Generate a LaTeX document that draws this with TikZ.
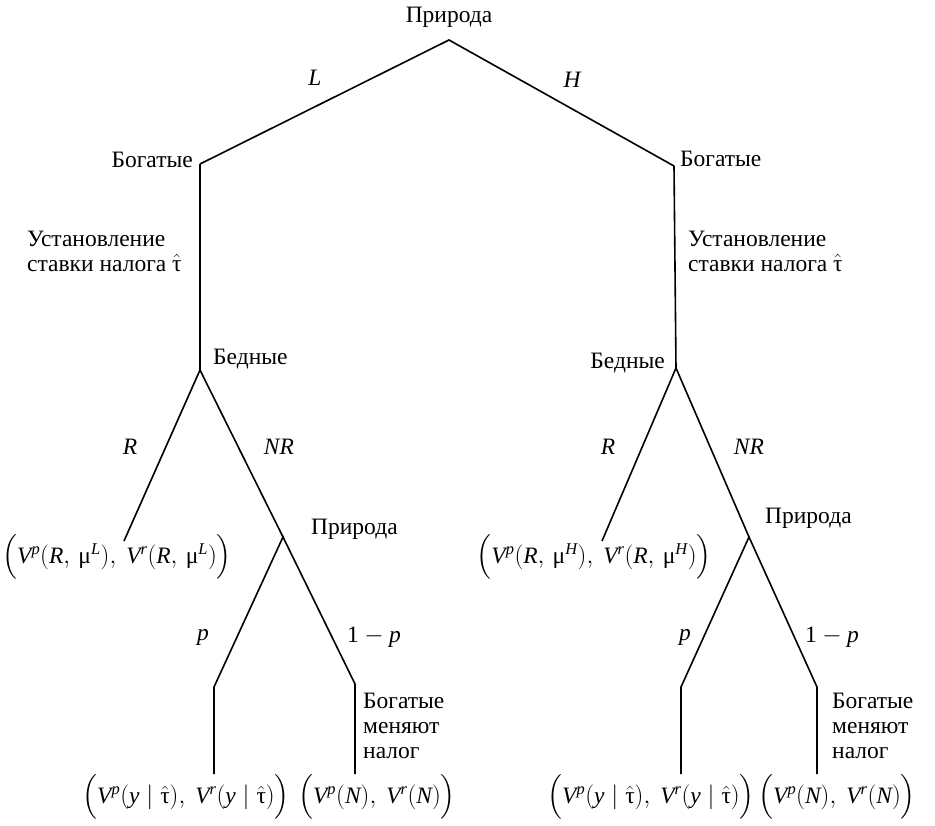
\documentclass[tikz,border=0pt]{standalone}
\usepackage{fontspec}
\setmainfont{Liberation Serif}
\usepackage{amsmath}
\usetikzlibrary{positioning}

\newcommand\mi[1]{\mathit{#1}}
\newcommand\tauhat{\hat{\text{τ}}}
\newcommand\payR[1]{$\Bigl(\mi{V}^{\mi{p}}(\mi{R},\,\text{μ}^{\mi{#1}}),\ \mi{V}^{\mi{r}}(\mi{R},\,\text{μ}^{\mi{#1}})\Bigr)$}
\newcommand\payY{$\Bigl(\mi{V}^{\mi{p}}(\mi{y}\;|\;\tauhat),\ \mi{V}^{\mi{r}}(\mi{y}\;|\;\tauhat)\Bigr)$}
\newcommand\payN{$\Bigl(\mi{V}^{\mi{p}}(\mi{N}),\ \mi{V}^{\mi{r}}(\mi{N})\Bigr)$}

\begin{document}
\begin{tikzpicture}[x=1pt, y=-1pt]
\tikzstyle{lbl} = [inner sep=1pt, font=\fontsize{23.5}{25}\selectfont]
\tikzstyle{stage} = [lbl, align=left]
\tikzstyle{edge} = [draw, line width=1.6pt, line join=miter]

\useasboundingbox (0,0) rectangle (935,826);

% decision points
\coordinate (nat) at (449,40);
\coordinate (richL) at (200,164);
\coordinate (richH) at (674,166);
\coordinate (poorL) at (200,370);
\coordinate (poorH) at (676,368);
\coordinate (leafRL) at (124,541);
\coordinate (leafRH) at (602,541);
\coordinate (natL) at (283,537);
\coordinate (natH) at (749,537);
\coordinate (kinkpL) at (214,687);
\coordinate (kinkqL) at (355,684);
\coordinate (kinkpH) at (681,687);
\coordinate (kinkqH) at (817,687);
\coordinate (endpL) at (214,774);
\coordinate (endqL) at (355,774);
\coordinate (endpH) at (681,774);
\coordinate (endqH) at (817,774);

% branches
\path[edge] (richL) -- (nat) -- (richH);
\path[edge] (richL) -- (poorL);
\path[edge] (richH) -- (poorH);
\path[edge] (leafRL) -- (poorL) -- (natL);
\path[edge] (leafRH) -- (poorH) -- (natH);
\path[edge] (endpL) -- (kinkpL) -- (natL) -- (kinkqL) -- (endqL);
\path[edge] (endpH) -- (kinkpH) -- (natH) -- (kinkqH) -- (endqH);

% players and moves
\node (top) [lbl] at (449,17) {Природа};
\node (mL) [lbl] at (315,78) {$\mi{L}$};
\node (mH) [lbl] at (572,80) {$\mi{H}$};
\node (richLtxt) [lbl, anchor=east] at (194,160) {Богатые};
\node (richHtxt) [lbl, anchor=west] at (679,159) {Богатые};
\node (taxL) [stage, anchor=west] at (26,251) {Установление\\ставки налога $\tauhat$};
\node (taxH) [stage, anchor=west] at (687,251) {Установление\\ставки налога $\tauhat$};
\node (poorLtxt) [lbl, anchor=west] at (212,359) {Бедные};
\node (poorHtxt) [lbl, anchor=east] at (666,363) {Бедные};
\node (rL) [lbl] at (130,447) {$\mi{R}$};
\node (nrL) [lbl] at (279,447) {$\mi{NR}$};
\node (rH) [lbl] at (608,447) {$\mi{R}$};
\node (nrH) [lbl] at (749,447) {$\mi{NR}$};
\node (natLtxt) [lbl, anchor=west] at (310,529) {Природа};
\node (natHtxt) [lbl, anchor=west] at (764,518) {Природа};
\node (pL) [lbl] at (203,637) {$\mi{p}$};
\node (qL) [lbl] at (374,637) {$\mathrm{1} - \mi{p}$};
\node (pH) [lbl] at (685,637) {$\mi{p}$};
\node (qH) [lbl] at (832,637) {$\mathrm{1} - \mi{p}$};
\node (chgL) [stage, anchor=west] at (362,726) {Богатые\\меняют\\налог};
\node (chgH) [stage, anchor=west] at (831,726) {Богатые\\меняют\\налог};

% payoffs
\node (payRL) [lbl] at (117,557) {\payR{L}};
\node (payRH) [lbl] at (594,557) {\payR{H}};
\node (payYL) [lbl] at (186,797) {\payY};
\node (payNL) [lbl] at (377,797) {\payN};
\node (payYH) [lbl] at (651,797) {\payY};
\node (payNH) [lbl] at (837,797) {\payN};
\end{tikzpicture}
\end{document}
